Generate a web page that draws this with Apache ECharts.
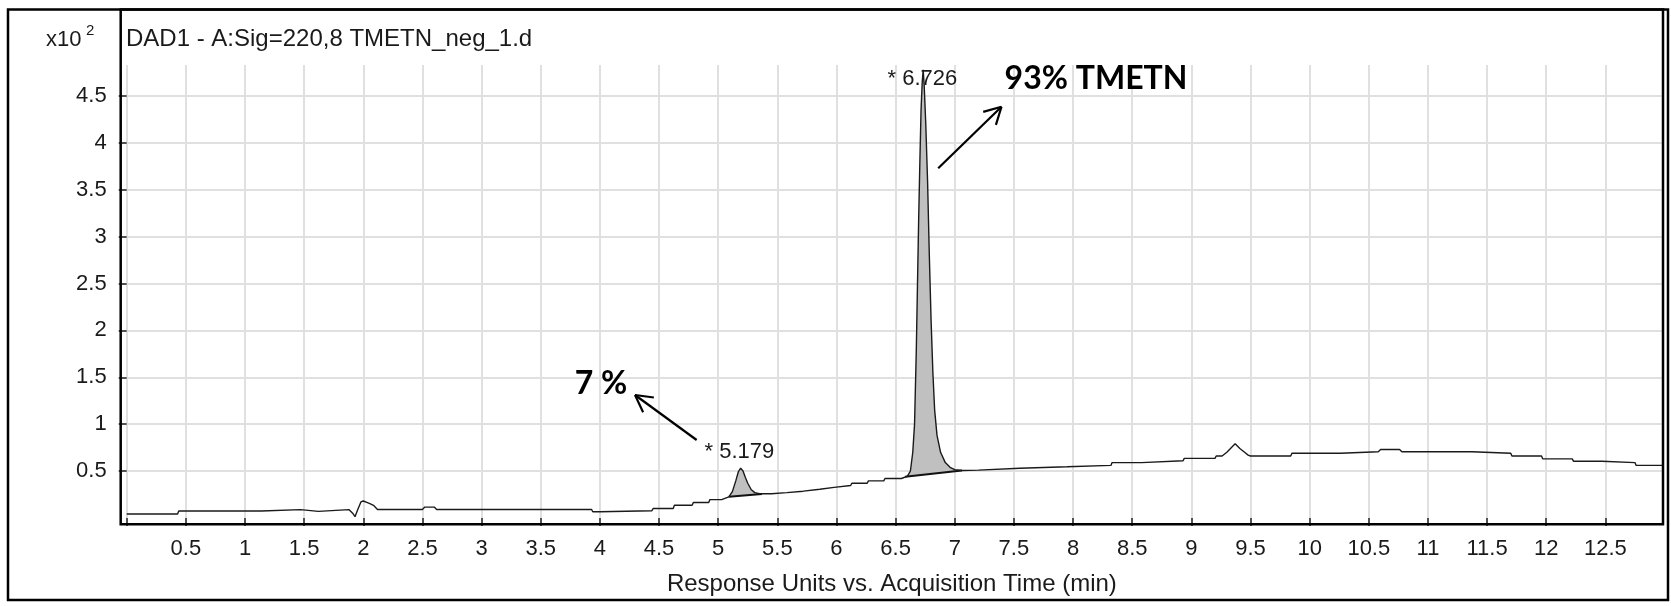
<!DOCTYPE html>
<html><head><meta charset="utf-8">
<script src="https://cdn.jsdelivr.net/npm/echarts@6/dist/echarts.min.js"></script>
<style>html,body{margin:0;padding:0;background:#fff}#c{width:1671px;height:606px}</style>
</head><body><div id="c"></div>
<script>
// ---------------- data (signal in x10^2 response units, time in min) ----------------
const traceTime = [0.00,0.43,0.44,1.14,1.15,1.47,1.48,1.62,1.63,1.88,1.91,1.93,1.95,1.98,2.00,2.03,2.06,2.09,2.12,2.50,2.52,2.60,2.62,3.93,3.94,4.00,4.01,4.44,4.45,4.62,4.63,4.78,4.79,4.92,4.93,5.03,5.04,5.09,5.12,5.15,5.17,5.19,5.21,5.23,5.25,5.28,5.31,5.35,5.45,5.46,5.58,5.59,5.72,5.73,5.86,5.87,5.98,5.99,6.12,6.13,6.26,6.27,6.40,6.41,6.55,6.56,6.60,6.625,6.645,6.66,6.675,6.685,6.695,6.705,6.715,6.725,6.733,6.742,6.755,6.77,6.785,6.80,6.815,6.83,6.85,6.88,6.92,6.96,7.00,7.06,7.20,7.21,7.55,7.56,7.95,7.96,8.32,8.33,8.58,8.59,8.93,8.94,9.20,9.21,9.26,9.30,9.37,9.41,9.45,9.48,9.50,9.84,9.85,10.26,10.27,10.58,10.60,10.76,10.78,11.37,11.38,11.70,11.71,11.96,11.97,12.22,12.23,12.47,12.48,12.75,12.76,12.98];
const traceSignal = [0.042,0.042,0.074,0.074,0.088,0.088,0.070,0.070,0.088,0.088,0.050,0.013,0.080,0.170,0.180,0.165,0.150,0.130,0.090,0.090,0.115,0.115,0.090,0.090,0.066,0.066,0.077,0.077,0.100,0.100,0.135,0.135,0.165,0.165,0.195,0.195,0.215,0.225,0.280,0.400,0.490,0.530,0.500,0.430,0.370,0.300,0.270,0.258,0.258,0.270,0.270,0.285,0.285,0.305,0.305,0.325,0.325,0.345,0.345,0.370,0.370,0.395,0.395,0.420,0.420,0.440,0.445,0.500,0.700,1.000,1.800,2.500,3.200,3.800,4.350,4.650,4.780,4.600,4.200,3.600,2.800,2.100,1.550,1.150,0.880,0.700,0.590,0.540,0.515,0.505,0.510,0.530,0.530,0.545,0.545,0.560,0.560,0.590,0.590,0.610,0.610,0.635,0.635,0.660,0.660,0.700,0.790,0.740,0.700,0.670,0.660,0.660,0.690,0.690,0.705,0.705,0.730,0.730,0.705,0.705,0.690,0.690,0.660,0.660,0.630,0.630,0.605,0.605,0.590,0.590,0.560,0.560];

const xTickValues  = [0,0.5,1,1.5,2,2.5,3,3.5,4,4.5,5,5.5,6,6.5,7,7.5,8,8.5,9,9.5,10,10.5,11,11.5,12,12.5];
const xLabelValues = [0.5,1,1.5,2,2.5,3,3.5,4,4.5,5,5.5,6,6.5,7,7.5,8,8.5,9,9.5,10,10.5,11,11.5,12,12.5];
const yTickValues  = [0.5,1,1.5,2,2.5,3,3.5,4,4.5];

const peakRT      = [5.179, 6.726];
const peakLabels  = ['* 5.179', '* 6.726'];
const integStartT = [5.09, 6.58];
const integStartV = [0.225, 0.44];
const integEndT   = [5.37, 7.06];
const integEndV   = [0.255, 0.505];

const percentTexts = ['7 %', '93% TMETN'];
const titleText  = 'DAD1 - A:Sig=220,8 TMETN_neg_1.d';
const xAxisTitle = 'Response Units vs. Acquisition Time (min)';

// ---------------- layout (not data) ----------------
const annotationLayout = [
  {at: [4.009, 1.43], tail: [4.818, 0.831], head: [4.297, 1.311]},
  {at: [8.194, 4.685], tail: [6.860, 3.729], head: [7.395, 4.386]}
];
const FONT = "'Liberation Sans', Arial, sans-serif";
const TXT = '#1a1a1a';

const chart = echarts.init(document.getElementById('c'));
chart.setOption({
  animation: false,
  textStyle: {fontFamily: FONT},
  grid: {left: 120.7, right: 8, top: 65, bottom: 81.7, containLabel: false},
  xAxis: {
    type: 'value', min: -0.0507, max: 12.987, offset: 3.2,
    axisLine: {show: false},
    axisTick: {show: true, length: 8, customValues: xTickValues, lineStyle: {color: '#222', width: 1.5}},
    axisLabel: {customValues: xLabelValues, fontSize: 22, color: TXT, margin: 10, fontFamily: FONT},
    splitLine: {show: true, lineStyle: {color: '#e0e0e0', width: 2}},
    name: xAxisTitle, nameLocation: 'middle', nameGap: 45,
    nameTextStyle: {fontSize: 24, color: TXT, fontFamily: FONT}
  },
  yAxis: {
    type: 'value', min: -0.0683, max: 4.831,
    axisLine: {show: false},
    axisTick: {show: true, length: 8, customValues: yTickValues, lineStyle: {color: '#222', width: 1.5}},
    axisLabel: {customValues: yTickValues, fontSize: 22, color: TXT, margin: 14, fontFamily: FONT},
    splitLine: {show: true, lineStyle: {color: '#e0e0e0', width: 2}}
  },
  series: [
    {
      type: 'custom', z: 2,
      data: peakRT.map((t, i) => [t, 0, i]),
      encode: {x: 0, y: 1},
      renderItem: function (params, api) {
        const i = api.value(2);
        const pts = [api.coord([integStartT[i], integStartV[i]])];
        for (let k = 0; k < traceTime.length; k++) {
          const t = traceTime[k];
          if (t > integStartT[i] && t < integEndT[i]) pts.push(api.coord([t, traceSignal[k]]));
        }
        pts.push(api.coord([integEndT[i], integEndV[i]]));
        const a = pts[0], b = pts[pts.length - 1];
        return {type: 'group', children: [
          {type: 'polygon', shape: {points: pts}, style: {fill: '#c0c0c0'}},
          {type: 'line', shape: {x1: a[0], y1: a[1], x2: b[0], y2: b[1]}, style: {stroke: '#111', lineWidth: 2}}
        ]};
      }
    },
    {
      type: 'line', z: 3,
      data: traceTime.map((t, i) => [t, traceSignal[i]]),
      showSymbol: false, symbol: 'none',
      lineStyle: {color: '#1a1a1a', width: 1.4}
    }
  ]
});

// ---------------- graphics: frames, titles, labels, arrows ----------------
const px = p => chart.convertToPixel({gridIndex: 0}, p);
const g = [];
g.push({type: 'rect', shape: {x: 8, y: 9.5, width: 1660, height: 590.5}, style: {fill: 'none', stroke: '#000', lineWidth: 2.5}, z: 100, silent: true});
g.push({type: 'rect', shape: {x: 120.7, y: 9.5, width: 1542.3, height: 514.8}, style: {fill: 'none', stroke: '#000', lineWidth: 2.5}, z: 100, silent: true});
g.push({type: 'text', x: 126, y: 39, style: {text: titleText, font: '24px ' + FONT, fill: TXT, textVerticalAlign: 'middle'}, z: 100});
g.push({type: 'text', x: 46, y: 40, style: {text: 'x10', font: '22px ' + FONT, fill: TXT, textVerticalAlign: 'middle'}, z: 100});
g.push({type: 'text', x: 86, y: 31, style: {text: '2', font: '15px ' + FONT, fill: TXT, textVerticalAlign: 'middle'}, z: 100});

peakRT.forEach((rt, i) => {
  let apexV = -1;
  for (let k = 0; k < traceTime.length; k++) {
    if (traceTime[k] >= integStartT[i] && traceTime[k] <= integEndT[i] && traceSignal[k] > apexV) apexV = traceSignal[k];
  }
  const p = px([rt, apexV]);
  const yb = Math.max(p[1] - 5, 90);
  g.push({type: 'text', x: p[0], y: yb, style: {text: peakLabels[i], font: '22px ' + FONT, fill: TXT, textAlign: 'center', textVerticalAlign: 'bottom'}, z: 100});
});

annotationLayout.forEach((a, i) => {
  const c = px(a.at), t = px(a.tail), h = px(a.head);
  g.push({type: 'text', x: c[0], y: c[1], style: {text: percentTexts[i], font: 'bold 32px Lato, sans-serif', fill: '#000', textAlign: 'center', textVerticalAlign: 'middle'}, z: 100});
  g.push({type: 'line', shape: {x1: t[0], y1: t[1], x2: h[0], y2: h[1]}, style: {stroke: '#000', lineWidth: 2.2}, z: 100});
  const ang = Math.atan2(t[1] - h[1], t[0] - h[0]);
  const L = 19, da = 0.5;
  [ang - da, ang + da].forEach(an => {
    g.push({type: 'line', shape: {x1: h[0], y1: h[1], x2: h[0] + L * Math.cos(an), y2: h[1] + L * Math.sin(an)}, style: {stroke: '#000', lineWidth: 2.2}, z: 100});
  });
});
chart.setOption({graphic: g});
</script>
</body></html>
